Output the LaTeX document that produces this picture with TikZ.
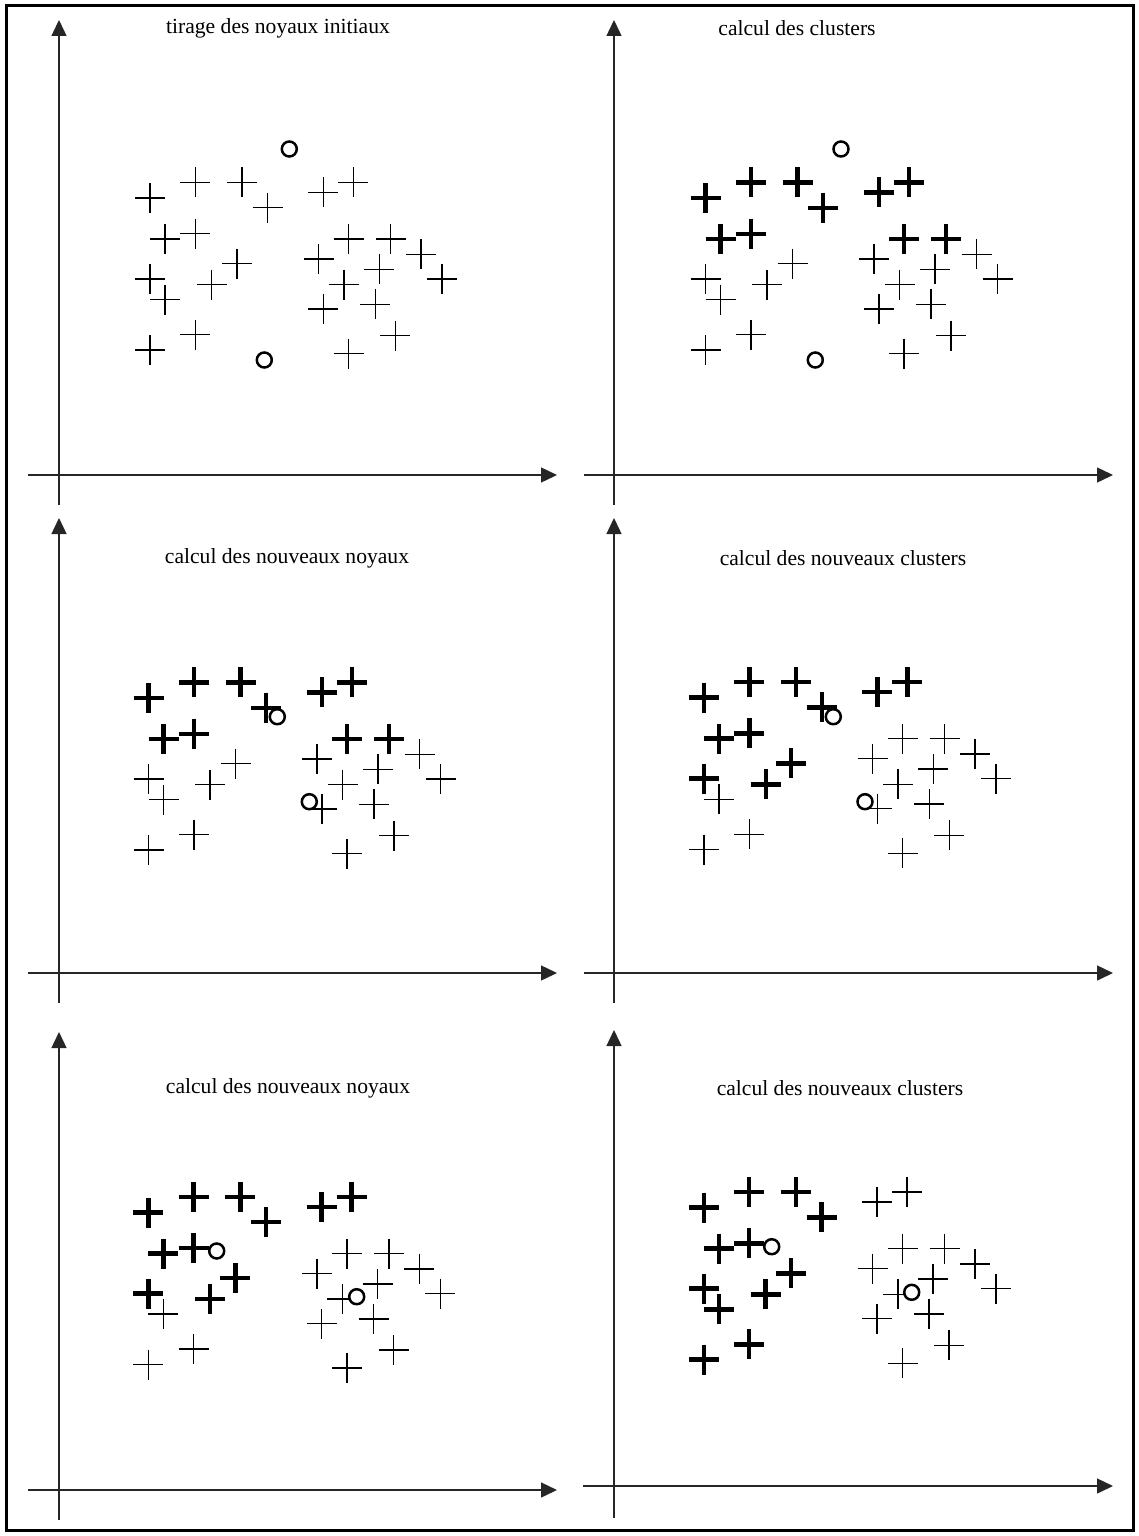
\documentclass[tikz,border=0pt]{standalone}
\usepackage{fontspec}
\setmainfont{Liberation Serif}
\usetikzlibrary{arrows.meta}
\begin{document}
\begin{tikzpicture}[x=1pt,y=-1pt,
  axis/.style={line width=1.4pt, draw=black!85, -{Triangle[length=16pt,width=15pt]}},
  title/.style={font=\fontsize{21.6}{25}\selectfont, inner sep=0pt},
  pics/tp/.style={code={\draw[line width=1.5pt] (-15,0) -- (15,0) (0,-15) -- (0,15);}},
  pics/bp/.style={code={\draw[line width=4.4pt] (-15,0) -- (15,0) (0,-15) -- (0,15);}},
  nucleus/.style={circle, draw, line width=2.5pt, fill=white, minimum size=15pt, inner sep=0pt},
]
\useasboundingbox (0,0) rectangle (1139,1536);
\draw[line width=3pt] (6,6) rectangle (1133,1530);

\def\ptlist{1/150/198,2/195.3/182.3,3/242/182.3,4/267.7/207.7,5/323.3/192.3,6/353.3/182.3,7/165/239,8/195.3/233.7,9/348.7/239,10/390.7/239,11/421/254.3,12/318.7/259,13/237/263.7,14/379.3/269.3,15/150/279,16/211.7/284.7,17/344/284.7,18/442/279,19/165/299.7,20/323.3/309,21/375.3/304.3,22/195.3/334.7,23/395.3/335.7,24/150/350,25/348.7/353.7}

% panel: name/dx/dy/bold list
\foreach \n/\dx/\dy/\blist in {a/0/0/{0},
                               b/555.5/0/{1,2,3,4,5,6,7,8,9,10},
                               c/-1.5/500/{1,2,3,4,5,6,7,8,9,10},
                               d/554/499.6/{1,2,3,4,5,6,7,8,13,15,16},
                               e/-1.7/1014.5/{1,2,3,4,5,6,7,8,13,15,16},
                               f/553.8/1009.6/{1,2,3,4,7,8,13,15,16,19,22,24}} {
  \begin{scope}[shift={(\dx,\dy)}]
    \foreach \i/\x/\y in \ptlist {
      \coordinate (\n\i) at (\x,\y);
      \pic at (\n\i) {tp};
    }
    \foreach \i in \blist {
      \ifnum\i>0 \pic at (\n\i) {bp}; \fi
    }
  \end{scope}
}

% nuclei
\node[nucleus] (na1) at (289.3,149) {};
\node[nucleus] (na2) at (264.3,360) {};
\node[nucleus] (nb1) at (841,149) {};
\node[nucleus] (nb2) at (815.3,360) {};
\node[nucleus] (nc1) at (277.3,716.7) {};
\node[nucleus] (nc2) at (309.3,801.7) {};
\node[nucleus] (nd1) at (833.3,716.7) {};
\node[nucleus] (nd2) at (865,801.7) {};
\node[nucleus] (ne1) at (216.7,1251) {};
\node[nucleus] (ne2) at (356.7,1296.7) {};
\node[nucleus] (nf1) at (771.7,1246.7) {};
\node[nucleus] (nf2) at (911.7,1292.3) {};

% axes
\coordinate (ay0) at (59,505);   \coordinate (ay1) at (59,20);
\coordinate (ax0) at (28,475);   \coordinate (ax1) at (557,475);
\coordinate (by0) at (614,505);  \coordinate (by1) at (614,20);
\coordinate (bx0) at (584,475);  \coordinate (bx1) at (1113,475);
\coordinate (cy0) at (59,1003);  \coordinate (cy1) at (59,518);
\coordinate (cx0) at (28,973);   \coordinate (cx1) at (557,973);
\coordinate (dy0) at (614,1003); \coordinate (dy1) at (614,518);
\coordinate (dx0) at (584,973);  \coordinate (dx1) at (1113,973);
\coordinate (ey0) at (59,1520);  \coordinate (ey1) at (59,1032);
\coordinate (ex0) at (28,1490);  \coordinate (ex1) at (557,1490);
\coordinate (fy0) at (614,1518); \coordinate (fy1) at (614,1030);
\coordinate (fx0) at (583,1486); \coordinate (fx1) at (1113,1486);
\foreach \p in {a,b,c,d,e,f} {
  \draw[axis] (\p y0) -- (\p y1);
  \draw[axis] (\p x0) -- (\p x1);
}

% titles
\node[title] (ta) at (278,28) {tirage des noyaux initiaux};
\node[title] (tb) at (797,28) {calcul des clusters};
\node[title] (tc) at (287,558) {calcul des nouveaux noyaux};
\node[title] (td) at (843,558) {calcul des nouveaux clusters};
\node[title] (te) at (288,1088) {calcul des nouveaux noyaux};
\node[title] (tf) at (840,1088) {calcul des nouveaux clusters};
\end{tikzpicture}
\end{document}
